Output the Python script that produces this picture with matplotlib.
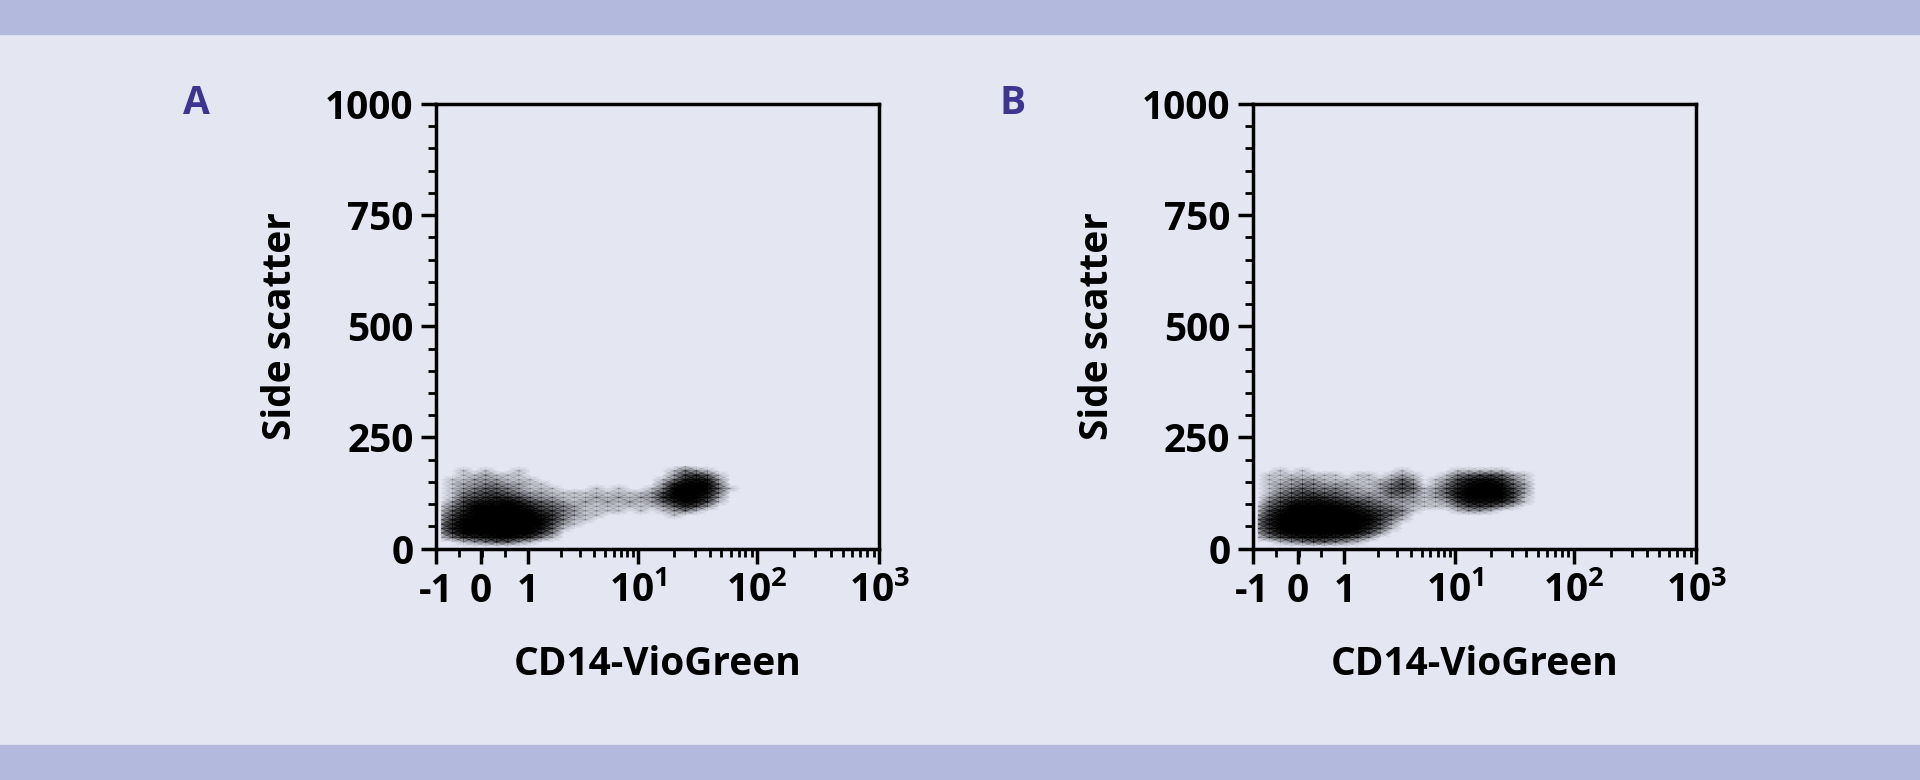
import numpy as np
import matplotlib.pyplot as plt
from matplotlib.colors import LinearSegmentedColormap
from matplotlib.patches import Rectangle

plt.rcParams['font.family'] = 'Open Sans'
plt.rcParams['font.weight'] = 'bold'
plt.rcParams['mathtext.fontset'] = 'custom'
plt.rcParams['mathtext.rm'] = 'Open Sans:bold'
plt.rcParams['mathtext.bf'] = 'Open Sans:bold'

BG = '#e4e6f2'
BAND = '#b3b9dc'

# x axis: biexponential-like display; tick values and their axis positions
x_tick_values = [-1, 0, 1, 10, 100, 1000]
x_tick_pos = [0.0, 0.102, 0.207, 0.456, 0.724, 1.0]
x_tick_labels = ['-1', '0', '1', '10$^{1}$', '10$^{2}$', '10$^{3}$']
y_ticks = [0, 250, 500, 750, 1000]

# density grids (rows: SSC centres, columns: axis fraction bins of 0.025)
ssc_rows = [185, 175, 165, 155, 145, 135, 125, 115, 105, 95, 85, 75, 65, 55, 45, 35, 25, 15, 5]
density_a = [
    "0000000000000000000000100000",
    "0010100100000000000001321000",
    "0011211100000000000002564100",
    "0112221110000000000013787200",
    "0122332211000000000027999300",
    "0123443211100010100139999410",
    "0134554322111111111259998300",
    "0145676532211121212269997200",
    "0257889754321212121247985100",
    "1369999975432111111124752000",
    "1479999996532111101012310000",
    "2589999998632110000001000000",
    "2699999999631100000000000000",
    "3799999999521000000000000000",
    "3799999998410000000000000000",
    "2699999996300000000000000000",
    "1367899863100000000000000000",
    "0012344210000000000000000000",
    "0000000000000000000000000000",
]
density_b = [
    "0000000000000000000000000000",
    "0010100000000100001111100000",
    "0111111101101210013455421000",
    "0112221111112420125788631000",
    "0122332221123530136899842000",
    "0123433322124541247999952000",
    "0134554432224431248999962000",
    "0245676543323321237999951000",
    "0357888765432221125888741000",
    "1469999987543211113565310000",
    "1589999998754310001221000000",
    "2699999999864200000000000000",
    "3799999999963100000000000000",
    "3799999999852000000000000000",
    "3699999999741000000000000000",
    "2589999998520000000000000000",
    "1357888764200000000000000000",
    "0012344321000000000000000000",
    "0000000000000000000000000000",
]

cmap = LinearSegmentedColormap.from_list('dens', [(0, 0, 0, 0), (0, 0, 0, 0.55), (0, 0, 0, 1)])


def minor_positions():
    out = list(np.linspace(0, 0.207, 5)[1:-1])
    for i in range(3, 6):
        lo, hi = x_tick_pos[i - 1], x_tick_pos[i]
        for m in range(2, 10):
            out.append(lo + (hi - lo) * np.log10(m))
    return out


def panel(ax, grid, letter):
    ax.set_facecolor(BG)
    z = np.array([[int(c) for c in r.ljust(28, '0')] for r in grid], float)
    xc = (np.arange(28) + 0.5) * 0.025
    ax.pcolormesh(xc, ssc_rows, z, cmap=cmap, vmin=0, vmax=9, shading='gouraud', zorder=2)
    ax.set_xlim(0, 1)
    ax.set_ylim(0, 1000)
    ax.set_xticks(x_tick_pos)
    ax.set_xticklabels(x_tick_labels)
    ax.set_xticks(minor_positions(), minor=True)
    ax.set_yticks(y_ticks)
    ax.set_yticks(np.arange(0, 1001, 50), minor=True)
    ax.tick_params(which='major', length=11, width=2.5, labelsize=28, pad=5)
    ax.tick_params(which='minor', length=6, width=2)
    ax.tick_params(axis='x', which='major', pad=6)
    for s in ax.spines.values():
        s.set_linewidth(2.5)
    ax.set_xlabel('CD14-VioGreen', fontsize=28, fontweight='bold', labelpad=24)
    ax.set_ylabel('Side scatter', fontsize=28, fontweight='bold', labelpad=18)
    ax.text(-0.57, 1.0, letter, transform=ax.transAxes, fontsize=28, fontweight='bold',
            color='#3d3590', va='center', ha='left')


fig = plt.figure(figsize=(19.2, 7.8), dpi=100)
fig.patch.set_facecolor(BG)
fig.patches.append(Rectangle((0, 1 - 0.044), 1, 0.044, transform=fig.transFigure, color=BAND, zorder=0))
fig.patches.append(Rectangle((0, 0), 1, 0.0455, transform=fig.transFigure, color=BAND, zorder=0))

ax_a = fig.add_axes([0.227, 0.2967, 0.231, 0.570])
ax_b = fig.add_axes([0.6524, 0.2967, 0.231, 0.570])
panel(ax_a, density_a, 'A')
panel(ax_b, density_b, 'B')

fig.savefig('out.png', dpi=100, facecolor=BG)
